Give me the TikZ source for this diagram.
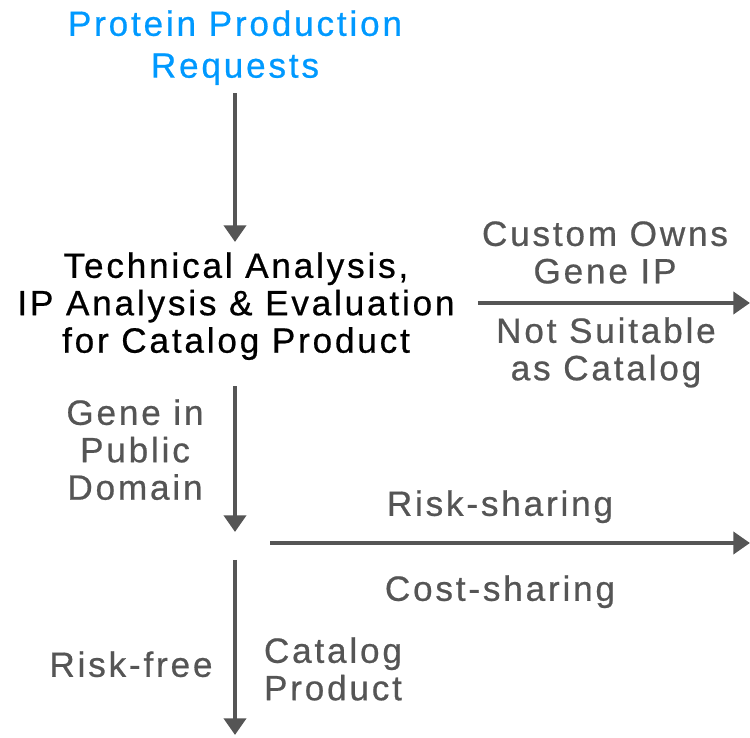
\documentclass[tikz,border=0pt]{standalone}
\usepackage{fontspec}
\setmainfont{Liberation Sans}
\newfontfamily\lblfont[LetterSpace=8,FakeBold=0.6]{Liberation Sans}
\usetikzlibrary{arrows.meta}
\definecolor{flowgray}{HTML}{555555}
\definecolor{reqblue}{HTML}{0099FF}
\tikzset{
	lbl/.style={font=\lblfont\fontsize{20}{21.3}\selectfont,text=flowgray,align=center,inner sep=0pt,anchor=north},
	flow/.style={draw=flowgray,line width=2.8pt,-{Triangle[width=12.5pt,length=9.5pt]}}
}
\begin{document}
\begin{tikzpicture}[line join=miter,scale=1]
	\useasboundingbox (0,0) rectangle (15,14.74);
	\node[lbl,text=reqblue,font=\lblfont\fontsize{20}{23.8}\selectfont] (req) at (4.7,14.54) {Protein Production\\Requests};
	\node[lbl,text=black] (tech) at (4.72,9.7) {Technical Analysis,\\IP Analysis \& Evaluation\\for Catalog Product};
	\node[lbl] (ownsip) at (12.1,10.32) {Custom Owns\\Gene IP};
	\node[lbl] (notcat) at (12.12,8.4) {Not Suitable\\as Catalog};
	\node[lbl] (pubgene) at (2.7,6.76) {Gene in\\Public\\Domain};
	\node[lbl] (risksh) at (10,4.94) {Risk-sharing};
	\node[lbl] (costsh) at (10,3.24) {Cost-sharing};
	\node[lbl] (riskfree) at (2.62,1.72) {Risk-free};
	\node[lbl] (catprod) at (6.66,2) {Catalog\\Product};
	\coordinate (ipend) at (15,8.68);
	\coordinate (hub) at (4.7,3.88);
	\coordinate (shend) at (15,3.88);
	\coordinate (catend) at (4.7,0.04);
	\draw[flow,shorten <=0.16cm,shorten >=0.2cm] (req.south) -- (req.south |- tech.north);
	\draw[flow,shorten <=0.46cm] (tech.east |- ipend) -- (ipend);
	\draw[flow,shorten <=0.52cm,shorten >=0.22cm] (tech.south -| hub) -- (hub);
	\draw[flow,shorten <=0.7cm] (hub) -- (shend);
	\draw[flow,shorten <=0.34cm] (hub) -- (catend);
\end{tikzpicture}
\end{document}
